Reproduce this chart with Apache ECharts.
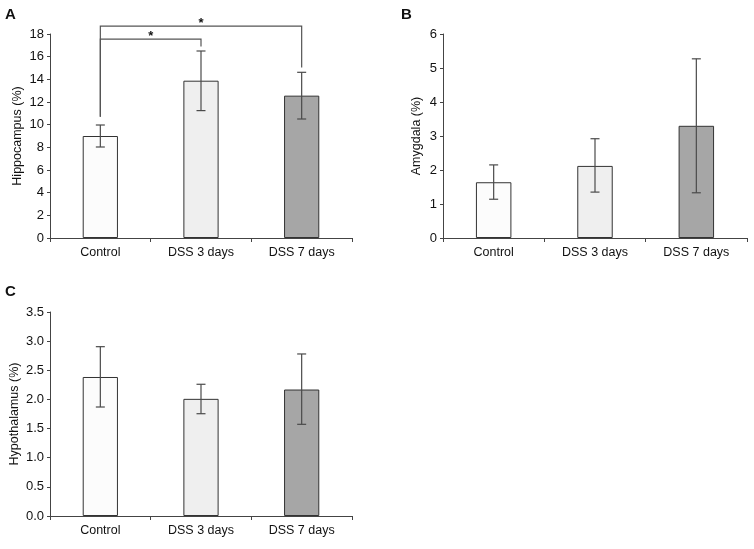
<!DOCTYPE html>
<html>
<head>
<meta charset="utf-8">
<script src="https://cdn.jsdelivr.net/npm/echarts@6/dist/echarts.min.js"></script>
<style>
  html, body { margin: 0; padding: 0; background: #fff; }
  #chart { width: 754px; height: 549px; }
</style>
</head>
<body>
<div id="chart"></div>
<script>
const groups = ['Control', 'DSS 3 days', 'DSS 7 days'];
const barColors = ['#fcfcfc', '#efefef', '#a6a6a6'];

const hippoMean = [9.0, 13.88, 12.56];
const hippoLow = [8.03, 11.24, 10.5];
const hippoHigh = [9.97, 16.5, 14.62];

const amygMean = [1.64, 2.12, 3.3];
const amygLow = [1.14, 1.35, 1.33];
const amygHigh = [2.15, 2.92, 5.27];

const hypoMean = [2.385, 2.01, 2.17];
const hypoLow = [1.87, 1.755, 1.573];
const hypoHigh = [2.905, 2.26, 2.78];

// significance brackets on panel A: [from, to, level, fromBottom, toBottom]
const hippoSig = [
  [0, 2, 18.7, 10.7, 15.05],
  [0, 1, 17.55, 10.7, 16.9]
];

const font = 'Liberation Sans, Arial, sans-serif';
const axisColor = '#444';

const chart = echarts.init(document.getElementById('chart'));

function xAxisFor(grid) {
  return {
    type: 'category', gridIndex: grid, data: groups,
    axisLine: { lineStyle: { color: axisColor } },
    axisTick: { show: true, length: 4, lineStyle: { color: axisColor } },
    axisLabel: { color: '#111', fontSize: 12.5, fontFamily: font, margin: 8 }
  };
}

function yAxisFor(grid, name, max, interval, digits, gap) {
  return {
    type: 'value', gridIndex: grid, min: 0, max: max, interval: interval,
    name: name, nameLocation: 'middle', nameRotate: 90, nameGap: gap,
    nameTextStyle: { color: '#111', fontSize: 12.5, fontFamily: font },
    axisLine: { show: true, lineStyle: { color: axisColor } },
    axisTick: { show: true, length: 3, lineStyle: { color: axisColor } },
    splitLine: { show: false },
    axisLabel: {
      color: '#111', fontSize: 13, fontFamily: font, margin: 6,
      formatter: v => v.toFixed(digits)
    }
  };
}

function barSeries(grid, mean) {
  return {
    type: 'bar', xAxisIndex: grid, yAxisIndex: grid,
    barWidth: '35%',
    data: mean.map((v, i) => ({
      value: v,
      itemStyle: { color: barColors[i], borderColor: '#333', borderWidth: 1 }
    })),
    silent: true
  };
}

function errorSeries(grid, low, high) {
  return {
    type: 'custom', xAxisIndex: grid, yAxisIndex: grid, z: 5,
    data: low.map((l, i) => [i, l, high[i]]),
    renderItem: (params, api) => {
      const lo = api.coord([api.value(0), api.value(1)]);
      const hi = api.coord([api.value(0), api.value(2)]);
      const w = 4.5;
      const style = { stroke: '#4a4a4a', lineWidth: 1.2 };
      return {
        type: 'group',
        children: [
          { type: 'line', shape: { x1: lo[0], y1: lo[1], x2: hi[0], y2: hi[1] }, style },
          { type: 'line', shape: { x1: lo[0] - w, y1: lo[1], x2: lo[0] + w, y2: lo[1] }, style },
          { type: 'line', shape: { x1: hi[0] - w, y1: hi[1], x2: hi[0] + w, y2: hi[1] }, style }
        ]
      };
    }
  };
}

const sigSeries = {
  type: 'custom', xAxisIndex: 0, yAxisIndex: 0, clip: false, z: 6,
  data: hippoSig,
  renderItem: (params, api) => {
    const a0 = api.coord([api.value(0), api.value(3)]);
    const a1 = api.coord([api.value(0), api.value(2)]);
    const b1 = api.coord([api.value(1), api.value(2)]);
    const b0 = api.coord([api.value(1), api.value(4)]);
    return {
      type: 'group',
      children: [
        {
          type: 'polyline',
          shape: { points: [a0, a1, b1, b0] },
          style: { stroke: '#555', lineWidth: 1.2, fill: null }
        },
        {
          type: 'text',
          style: {
            text: '*', x: (a1[0] + b1[0]) / 2, y: a1[1] - 3,
            align: 'center', verticalAlign: 'middle',
            font: 'bold 13px ' + font, fill: '#111'
          }
        }
      ]
    };
  }
};

const panelLabel = (text, left, top) => ({
  type: 'text', left: left, top: top,
  style: { text: text, font: 'bold 15px ' + font, fill: '#111' }
});

chart.setOption({
  animation: false,
  backgroundColor: '#fff',
  graphic: [
    panelLabel('A', 5, 7),
    panelLabel('B', 401, 7),
    panelLabel('C', 5, 284)
  ],
  grid: [
    { left: 50, top: 34, width: 302, height: 204 },
    { left: 443, top: 34, width: 304, height: 204 },
    { left: 50, top: 312, width: 302, height: 204 }
  ],
  xAxis: [xAxisFor(0), xAxisFor(1), xAxisFor(2)],
  yAxis: [
    yAxisFor(0, 'Hippocampus (%)', 18, 2, 0, 26),
    yAxisFor(1, 'Amygdala (%)', 6, 1, 0, 20),
    yAxisFor(2, 'Hypothalamus (%)', 3.5, 0.5, 1, 29)
  ],
  series: [
    barSeries(0, hippoMean), errorSeries(0, hippoLow, hippoHigh), sigSeries,
    barSeries(1, amygMean), errorSeries(1, amygLow, amygHigh),
    barSeries(2, hypoMean), errorSeries(2, hypoLow, hypoHigh)
  ]
});
</script>
</body>
</html>
